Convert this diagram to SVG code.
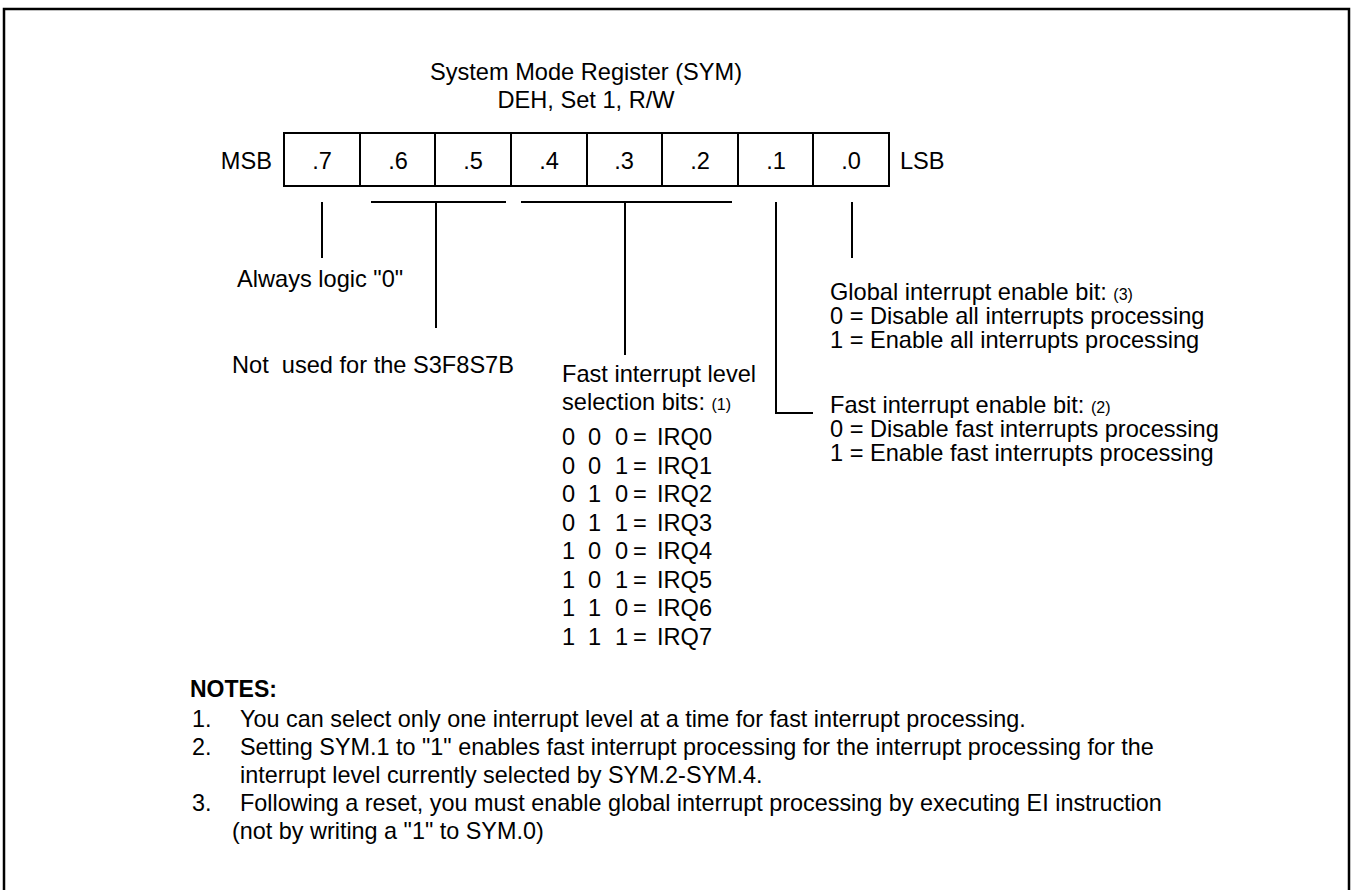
<svg xmlns="http://www.w3.org/2000/svg" width="1352" height="890" viewBox="0 0 1352 890">
<style>
text{font-family:"Liberation Sans",Arial,sans-serif;font-size:23.6px;fill:#000}
.c{text-anchor:middle}
.sm{font-size:16px}
.n{font-size:23.4px}
.b{font-weight:bold;font-size:23px}
.ln{stroke:#000;stroke-width:2;fill:none}
</style>
<rect width="1352" height="890" fill="#fff"/>
<g id="frame"><path d="M4,890 V9 H1349 V890" stroke="#000" stroke-width="2.5" fill="none"/></g>
<g id="title">
<text class="c" x="586" y="80">System Mode Register (SYM)</text>
<text class="c" x="586" y="108">DEH, Set 1, R/W</text>
</g>
<g id="register">
<rect class="ln" x="284" y="133" width="605" height="53"/>
<path class="ln" d="M360,133V186M435,133V186M511,133V186M587,133V186M662,133V186M738,133V186M813,133V186"/>
<text x="272" y="169" text-anchor="end">MSB</text>
<text class="c" x="322" y="169">.7</text>
<text class="c" x="398" y="169">.6</text>
<text class="c" x="473" y="169">.5</text>
<text class="c" x="549" y="169">.4</text>
<text class="c" x="624" y="169">.3</text>
<text class="c" x="700" y="169">.2</text>
<text class="c" x="776" y="169">.1</text>
<text class="c" x="851" y="169">.0</text>
<text x="900" y="169">LSB</text>
</g>
<g id="connectors">
<path class="ln" d="M322,202V258"/>
<path class="ln" d="M371,202H506M436,202V328"/>
<path class="ln" d="M521,202H732M625,202V355"/>
<path class="ln" d="M776,202V413H813"/>
<path class="ln" d="M852,202V258"/>
</g>
<g id="bit7"><text x="237" y="287">Always logic "0"</text></g>
<g id="bit65"><text x="232" y="373" xml:space="preserve">Not  used for the S3F8S7B</text></g>
<g id="bit42">
<text x="562" y="382">Fast interrupt level</text>
<text x="562" y="410">selection bits: <tspan class="sm">(1)</tspan></text>
<g>
<text x="562" y="445">0</text><text x="588" y="445">0</text><text x="615" y="445">0</text><text x="633" y="445">=</text><text x="657" y="445">IRQ0</text>
<text x="562" y="474">0</text><text x="588" y="474">0</text><text x="615" y="474">1</text><text x="633" y="474">=</text><text x="657" y="474">IRQ1</text>
<text x="562" y="502">0</text><text x="588" y="502">1</text><text x="615" y="502">0</text><text x="633" y="502">=</text><text x="657" y="502">IRQ2</text>
<text x="562" y="531">0</text><text x="588" y="531">1</text><text x="615" y="531">1</text><text x="633" y="531">=</text><text x="657" y="531">IRQ3</text>
<text x="562" y="559">1</text><text x="588" y="559">0</text><text x="615" y="559">0</text><text x="633" y="559">=</text><text x="657" y="559">IRQ4</text>
<text x="562" y="588">1</text><text x="588" y="588">0</text><text x="615" y="588">1</text><text x="633" y="588">=</text><text x="657" y="588">IRQ5</text>
<text x="562" y="616">1</text><text x="588" y="616">1</text><text x="615" y="616">0</text><text x="633" y="616">=</text><text x="657" y="616">IRQ6</text>
<text x="562" y="645">1</text><text x="588" y="645">1</text><text x="615" y="645">1</text><text x="633" y="645">=</text><text x="657" y="645">IRQ7</text>
</g>
</g>
<g id="bit0">
<text x="830" y="300">Global interrupt enable bit: <tspan class="sm">(3)</tspan></text>
<text x="830" y="324">0 = Disable all interrupts processing</text>
<text x="830" y="348">1 = Enable all interrupts processing</text>
</g>
<g id="bit1">
<text x="830" y="413">Fast interrupt enable bit: <tspan class="sm">(2)</tspan></text>
<text x="830" y="437">0 = Disable fast interrupts processing</text>
<text x="830" y="461">1 = Enable fast interrupts processing</text>
</g>
<g id="notes">
<text class="b" x="190" y="697">NOTES:</text>
<text class="n" x="192" y="727">1.</text><text class="n" x="240" y="727">You can select only one interrupt level at a time for fast interrupt processing.</text>
<text class="n" x="192" y="755">2.</text><text class="n" x="240" y="755">Setting SYM.1 to "1" enables fast interrupt processing for the interrupt processing for the</text>
<text class="n" x="240" y="783">interrupt level currently selected by SYM.2-SYM.4.</text>
<text class="n" x="192" y="811">3.</text><text class="n" x="240" y="811">Following a reset, you must enable global interrupt processing by executing EI instruction</text>
<text class="n" x="232" y="839">(not by writing a "1" to SYM.0)</text>
</g>
</svg>
